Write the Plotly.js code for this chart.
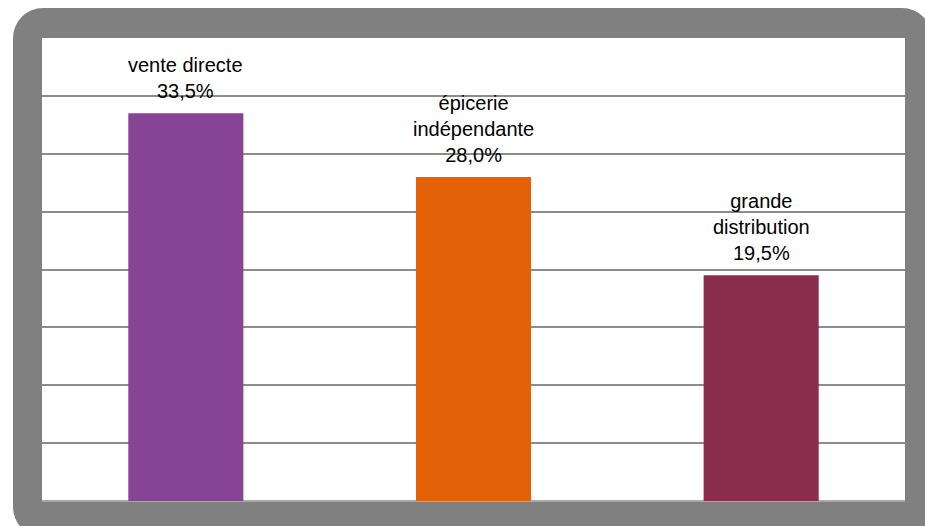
<!DOCTYPE html>
<html>
<head>
<meta charset="utf-8">
<script src="https://cdn.plot.ly/plotly-3.0.1.min.js"></script>
<style>
  html, body { margin:0; padding:0; width:925px; height:526px; overflow:hidden; background:#ffffff; }
  #frame { position:absolute; left:13px; top:8px; width:919px; height:529px; border-radius:30px; background:#808080; }
  #chart { position:absolute; left:0; top:0; width:925px; height:526px; }
</style>
</head>
<body>
<div id="frame"></div>
<div id="chart"></div>
<script>
const categories = ["vente directe", "épicerie indépendante", "grande distribution"];
const labelLines = ["vente directe", "épicerie<br>indépendante", "grande<br>distribution"];
const values = [33.5, 28.0, 19.5];
const valueLabels = ["33,5%", "28,0%", "19,5%"];
const barColors = ["#874494", "#E36208", "#8A2D4C"];
const gridValues = [5, 10, 15, 20, 25, 30, 35];

const trace = {
  type: "bar",
  x: categories,
  y: values,
  width: 0.4,
  marker: { color: barColors, line: { width: 0 } },
  hoverinfo: "skip"
};

const annotations = categories.map((c, i) => ({
  x: c, y: values[i], xref: "x", yref: "y",
  text: labelLines[i] + "<br>" + valueLabels[i],
  showarrow: false, yanchor: "bottom", xanchor: "center",
  yshift: 9,
  font: { family: "Liberation Sans, Arial, sans-serif", size: 20, color: "#000000" }
}));

const layout = {
  width: 925, height: 526,
  margin: { l: 42, r: 20, t: 38, b: 25 },
  paper_bgcolor: "rgba(0,0,0,0)",
  plot_bgcolor: "#ffffff",
  showlegend: false,
  xaxis: { showticklabels: false, ticks: "", showgrid: false, showline: false, zeroline: false, fixedrange: true },
  yaxis: {
    range: [0, 40], tickmode: "array", tickvals: gridValues,
    showticklabels: false, ticks: "", showgrid: true, gridcolor: "#8c8c8c", gridwidth: 2,
    zeroline: true, zerolinecolor: "#a8a8a8", zerolinewidth: 2, showline: false, fixedrange: true
  },
  annotations: annotations
};

Plotly.newPlot("chart", [trace], layout, { staticPlot: true, displayModeBar: false });
</script>
</body>
</html>
